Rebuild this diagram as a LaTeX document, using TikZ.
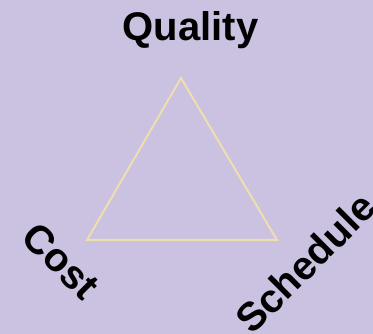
\documentclass[tikz,border=0pt]{standalone}
\usepackage{fontspec}
\setmainfont{Liberation Sans}
\definecolor{bg}{HTML}{CBC1E1}
\definecolor{tri}{HTML}{EEDFAE}
\begin{document}
\begin{tikzpicture}[x=1pt,y=-1pt,
  lbl/.style={font=\bfseries\fontsize{40}{40}\selectfont, text=black, inner sep=0pt}]
\clip (0,0) rectangle (373,334);
\fill[bg] (0,0) rectangle (373,334);
\coordinate (A) at (181,78);
\coordinate (B) at (87,240);
\coordinate (C) at (277,240);
\draw[tri, line width=2pt, line join=miter] (A) -- (B) -- (C) -- cycle;
\node[lbl, anchor=base] (q) at (190.5,41) {Quality};
\node[lbl, rotate=-45] (c) at (61,261) {Cost};
\node[lbl, rotate=45] (s) at (305,263) {Schedule};
\end{tikzpicture}
\end{document}
